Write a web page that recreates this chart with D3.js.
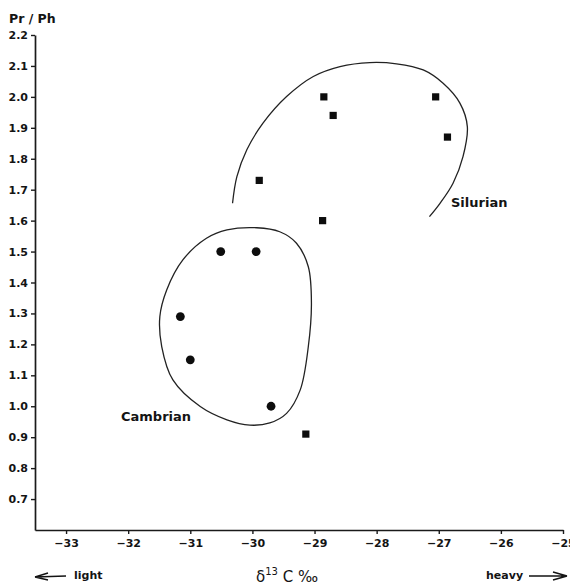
<!DOCTYPE html>
<html>
<head>
<meta charset="utf-8">
<script src="https://cdn.jsdelivr.net/npm/d3@7"></script>
<style>
  html, body { margin: 0; padding: 0; background: #fff; }
  svg { display: block; }
  text { fill: #141414; }
</style>
</head>
<body>
<svg id="chart" width="570" height="585"></svg>
<script>
// ---- data ----
const xTicks = [-33, -32, -31, -30, -29, -28, -27, -26, -25];
const yTicks = [0.7, 0.8, 0.9, 1.0, 1.1, 1.2, 1.3, 1.4, 1.5, 1.6, 1.7, 1.8, 1.9, 2.0, 2.1, 2.2];

// Silurian samples (squares): d13C, Pr/Ph
const silurianX = [-28.85, -28.70, -27.05, -26.86, -29.89, -28.87, -29.14];
const silurianY = [2.00, 1.94, 2.00, 1.87, 1.73, 1.60, 0.91];

// Cambrian samples (circles)
const cambrianX = [-30.51, -29.94, -31.16, -31.00, -29.70];
const cambrianY = [1.50, 1.50, 1.29, 1.15, 1.00];

// hand-drawn envelopes (data units)
const cambrianEnvX = [-29.93, -29.56, -29.29, -29.10, -29.05, -29.10, -29.23, -29.45, -29.72, -30.04, -30.41, -30.84, -31.28, -31.46, -31.49, -31.38, -31.12, -30.74, -30.41];
const cambrianEnvY = [1.577, 1.564, 1.527, 1.451, 1.333, 1.193, 1.053, 0.977, 0.946, 0.939, 0.956, 0.999, 1.085, 1.193, 1.290, 1.376, 1.473, 1.543, 1.570];

const silurianEnvX = [-30.32, -30.25, -30.09, -29.83, -29.45, -29.02, -28.59, -28.11, -27.68, -27.25, -26.93, -26.66, -26.54, -26.61, -26.77, -26.98, -27.15];
const silurianEnvY = [1.656, 1.742, 1.829, 1.915, 2.001, 2.066, 2.098, 2.111, 2.107, 2.087, 2.044, 1.980, 1.904, 1.807, 1.721, 1.656, 1.613];

// ---- layout ----
const svg = d3.select("#chart");
const FONT = "'DejaVu Sans', sans-serif";
const x = d3.scaleLinear().domain([-33.5, -25]).range([35, 563]);
const y = d3.scaleLinear().domain([0.6, 2.2]).range([530, 35]);

// axes
const yAxis = d3.axisLeft(y).tickValues(yTicks).tickFormat(d3.format(".1f"))
  .tickSize(4).tickSizeOuter(0).tickPadding(3);
const xAxis = d3.axisBottom(x).tickValues(xTicks).tickFormat(d3.format("d"))
  .tickSize(4).tickSizeOuter(0).tickPadding(5);

const gy = svg.append("g").attr("transform", `translate(${x.range()[0]},0)`).call(yAxis);
const gx = svg.append("g").attr("transform", `translate(0,${y.range()[0]})`).call(xAxis);
[gx, gy].forEach(g => {
  g.attr("font-family", null).attr("font-size", null);
  g.select(".domain").attr("stroke", "#1a1a1a").attr("stroke-width", 1.7);
  g.selectAll(".tick line").attr("stroke", "#1a1a1a").attr("stroke-width", 1.4);
  g.selectAll(".tick text").attr("fill", "#141414")
    .style("font-family", FONT).style("font-weight", "bold").style("font-size", "11px");
});

// y axis title
svg.append("text").attr("x", 9).attr("y", 23)
  .style("font-family", FONT).style("font-weight", "bold").style("font-size", "12.5px")
  .text("Pr / Ph");

// envelopes
const env = (xs, ys) => xs.map((v, i) => [x(v), y(ys[i])]);
svg.append("path")
  .attr("d", d3.line().curve(d3.curveCatmullRomClosed.alpha(0.5))(env(cambrianEnvX, cambrianEnvY)))
  .attr("fill", "none").attr("stroke", "#222").attr("stroke-width", 1.3);
svg.append("path")
  .attr("d", d3.line().curve(d3.curveCatmullRom.alpha(0.5))(env(silurianEnvX, silurianEnvY)))
  .attr("fill", "none").attr("stroke", "#222").attr("stroke-width", 1.3);

// points
svg.append("g").selectAll("rect").data(silurianX.map((v, i) => [v, silurianY[i]])).join("rect")
  .attr("x", d => x(d[0]) - 3.6).attr("y", d => y(d[1]) - 3.6)
  .attr("width", 7.2).attr("height", 7.2).attr("fill", "#0d0d0d");
svg.append("g").selectAll("circle").data(cambrianX.map((v, i) => [v, cambrianY[i]])).join("circle")
  .attr("cx", d => x(d[0])).attr("cy", d => y(d[1])).attr("r", 4.4).attr("fill", "#0d0d0d");

// group labels
svg.append("text").attr("x", 121).attr("y", 421)
  .style("font-family", FONT).style("font-weight", "bold").style("font-size", "13px")
  .text("Cambrian");
svg.append("text").attr("x", 451).attr("y", 207)
  .style("font-family", FONT).style("font-weight", "bold").style("font-size", "13px")
  .text("Silurian");

// bottom labels
const bt = svg.append("text").attr("x", 256).attr("y", 582)
  .style("font-family", FONT).style("font-size", "15px");
bt.append("tspan").text("δ");
bt.append("tspan").attr("dy", -7).style("font-size", "10px").text("13");
bt.append("tspan").attr("dy", 7).text(" C ‰");

svg.append("text").attr("x", 74).attr("y", 579)
  .style("font-family", FONT).style("font-weight", "bold").style("font-size", "11px").text("light");
svg.append("text").attr("x", 486).attr("y", 579)
  .style("font-family", FONT).style("font-weight", "bold").style("font-size", "11px").text("heavy");

// arrows
svg.append("path").attr("d", "M66,576 L35,577 M35,577 L48,573 M35,577 L48,580")
  .attr("fill", "none").attr("stroke", "#141414").attr("stroke-width", 1.5);
svg.append("path").attr("d", "M529,576 L567,576 M567,576 L553,572 M567,576 L553,580")
  .attr("fill", "none").attr("stroke", "#141414").attr("stroke-width", 1.5);
</script>
</body>
</html>
